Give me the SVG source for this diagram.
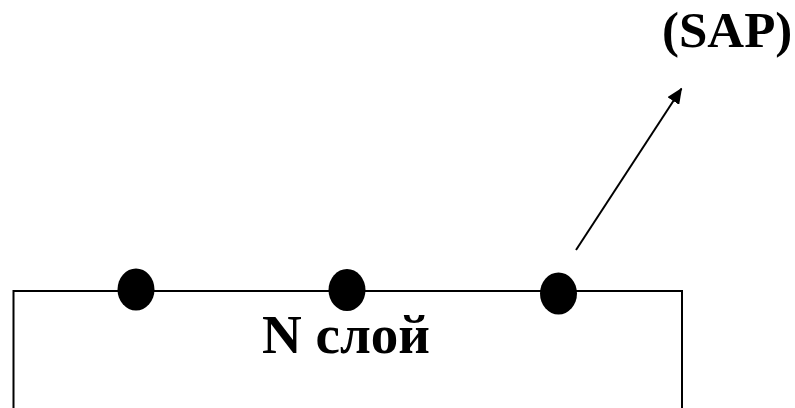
<svg xmlns="http://www.w3.org/2000/svg" width="795" height="408" viewBox="0 0 795 408">
<style>
.box{fill:none;stroke:#000;stroke-width:2}
.dot{fill:#000}
.lbl{font-family:"Liberation Serif","Times New Roman",serif;font-weight:bold;fill:#000}
.conn{stroke:#000;stroke-width:2;fill:none}
</style>
<defs>
<marker id="ah" viewBox="0 0 16 14" refX="15" refY="7" markerWidth="16" markerHeight="14" markerUnits="userSpaceOnUse" orient="auto">
<path d="M0,0 L16,7 L0,14 z" fill="#000"/>
</marker>
</defs>
<rect width="795" height="408" fill="#fff"/>
<g id="layer">
<path class="box" d="M13.5,410 V291 H682 V410"/>
<text class="lbl" x="346" y="353" font-size="55" text-anchor="middle">N слой</text>
</g>
<g id="node1"><ellipse class="dot" cx="136" cy="289.5" rx="18.5" ry="21"/></g>
<g id="node2"><ellipse class="dot" cx="347" cy="290" rx="18.5" ry="21"/></g>
<g id="node3"><ellipse class="dot" cx="558.5" cy="293.5" rx="18.5" ry="21"/></g>
<g id="sap"><text class="lbl" x="662" y="47" font-size="51">(SAP)</text></g>
<g id="connectors">
<line class="conn" x1="576" y1="250" x2="681.5" y2="88.5" marker-end="url(#ah)"/>
</g>
</svg>
